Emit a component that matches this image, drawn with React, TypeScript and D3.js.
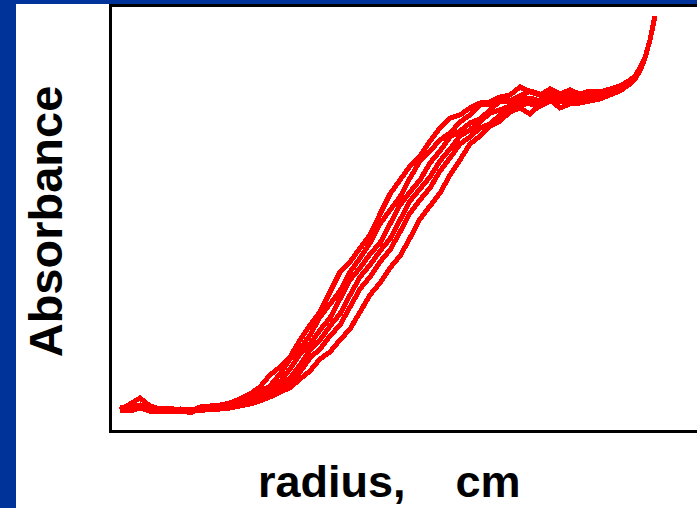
import React from "react";
import * as d3 from "d3";

const radius = [6.02,6.04,6.06,6.08,6.10,6.12,6.14,6.16,6.18,6.20,6.22,6.24,6.26,6.28,6.30,6.32,6.34,6.36,6.38,6.40,6.42,6.44,6.46,6.48,6.50,6.52,6.54,6.56,6.58,6.60,6.62,6.64,6.66,6.68,6.70,6.72,6.74,6.76,6.78,6.80,6.82,6.84,6.86,6.88,6.90,6.92,6.94,6.96,6.98,7.00,7.02,7.04,7.05,7.06,7.07,7.08,7.09];

const scan1 = [0.022,0.028,0.034,0.026,0.023,0.024,0.021,0.020,0.025,0.026,0.027,0.029,0.033,0.038,0.045,0.057,0.065,0.075,0.092,0.107,0.120,0.140,0.160,0.170,0.184,0.197,0.218,0.238,0.252,0.266,0.276,0.291,0.304,0.314,0.317,0.324,0.329,0.330,0.335,0.337,0.345,0.340,0.337,0.343,0.338,0.342,0.338,0.341,0.340,0.343,0.346,0.352,0.356,0.364,0.374,0.392,0.416];
const scan2 = [0.024,0.025,0.027,0.023,0.022,0.022,0.023,0.019,0.023,0.024,0.026,0.027,0.030,0.034,0.040,0.046,0.058,0.073,0.083,0.097,0.115,0.128,0.141,0.160,0.174,0.189,0.208,0.222,0.235,0.254,0.271,0.281,0.292,0.299,0.310,0.317,0.327,0.328,0.332,0.331,0.336,0.341,0.338,0.338,0.333,0.335,0.336,0.337,0.339,0.342,0.345,0.351,0.356,0.363,0.374,0.392,0.416];
const scan3 = [0.023,0.022,0.026,0.024,0.021,0.023,0.022,0.020,0.022,0.023,0.025,0.026,0.028,0.032,0.037,0.043,0.050,0.063,0.078,0.088,0.102,0.114,0.133,0.152,0.164,0.178,0.189,0.208,0.227,0.240,0.252,0.269,0.281,0.295,0.301,0.309,0.313,0.322,0.331,0.330,0.332,0.334,0.331,0.335,0.334,0.337,0.334,0.336,0.338,0.341,0.344,0.350,0.355,0.363,0.374,0.392,0.416];
const scan4 = [0.021,0.023,0.025,0.022,0.023,0.020,0.022,0.021,0.023,0.022,0.024,0.025,0.027,0.030,0.034,0.040,0.047,0.054,0.067,0.082,0.092,0.106,0.118,0.137,0.155,0.167,0.181,0.193,0.212,0.231,0.243,0.255,0.271,0.283,0.296,0.302,0.310,0.319,0.322,0.326,0.325,0.331,0.332,0.337,0.332,0.328,0.332,0.334,0.336,0.340,0.343,0.350,0.355,0.362,0.374,0.392,0.416];
const scan5 = [0.022,0.021,0.024,0.021,0.020,0.022,0.020,0.022,0.021,0.023,0.023,0.024,0.026,0.029,0.032,0.037,0.043,0.049,0.060,0.074,0.083,0.096,0.107,0.125,0.143,0.155,0.170,0.182,0.200,0.219,0.232,0.244,0.261,0.274,0.288,0.295,0.304,0.308,0.317,0.322,0.329,0.328,0.326,0.331,0.330,0.334,0.331,0.333,0.335,0.339,0.342,0.349,0.354,0.362,0.374,0.392,0.416];
const scan6 = [0.023,0.022,0.025,0.021,0.022,0.020,0.023,0.022,0.023,0.024,0.025,0.025,0.026,0.028,0.031,0.035,0.040,0.044,0.053,0.061,0.073,0.080,0.092,0.103,0.120,0.137,0.149,0.164,0.176,0.194,0.213,0.226,0.239,0.257,0.272,0.288,0.296,0.306,0.311,0.320,0.324,0.318,0.327,0.332,0.324,0.328,0.329,0.331,0.333,0.337,0.341,0.348,0.353,0.361,0.374,0.392,0.416];

const scans = [scan1, scan2, scan3, scan4, scan5, scan6];
const xLabel = "radius,    cm";
const yLabel = "Absorbance";

const W = 697;
const H = 508;
const BLUE = "#003399";

export default function App() {
  const x = d3.scaleLinear().domain([6.0, 7.18]).range([110, 700]);
  const y = d3.scaleLinear().domain([0, 0.427]).range([432, 5]);
  const line = d3
    .line<number>()
    .x((_, i) => x(radius[i]))
    .y((d) => y(d));

  const font = "'Liberation Sans', Arial, Helvetica, sans-serif";

  return (
    <svg
      width={W}
      height={H}
      style={{ position: "absolute", left: 0, top: 0, display: "block" }}
    >
      <rect x={0} y={0} width={W} height={H} fill="#ffffff" />
      <rect x={0} y={0} width={16} height={H} fill={BLUE} />
      <rect x={0} y={0} width={W} height={4} fill={BLUE} />
      <g>
        {scans.map((s, k) => (
          <path
            key={k}
            d={line(s) || ""}
            fill="none"
            stroke="#ff0000"
            strokeWidth={5}
            strokeLinejoin="miter"
            shapeRendering="crispEdges"
          />
        ))}
      </g>
      <rect
        x={110.5}
        y={5.5}
        width={650}
        height={426}
        fill="none"
        stroke="#000000"
        strokeWidth={3}
      />
      <text
        transform={`translate(62,221.5) rotate(-90)`}
        textAnchor="middle"
        fontFamily={font}
        fontWeight="bold"
        fontSize={47}
        fill="#000000"
      >
        {yLabel}
      </text>
      <text
        x={258}
        y={497}
        fontFamily={font}
        fontWeight="bold"
        fontSize={45}
        fill="#000000"
        style={{ whiteSpace: "pre" }}
        xmlSpace="preserve"
      >
        {xLabel}
      </text>
    </svg>
  );
}
